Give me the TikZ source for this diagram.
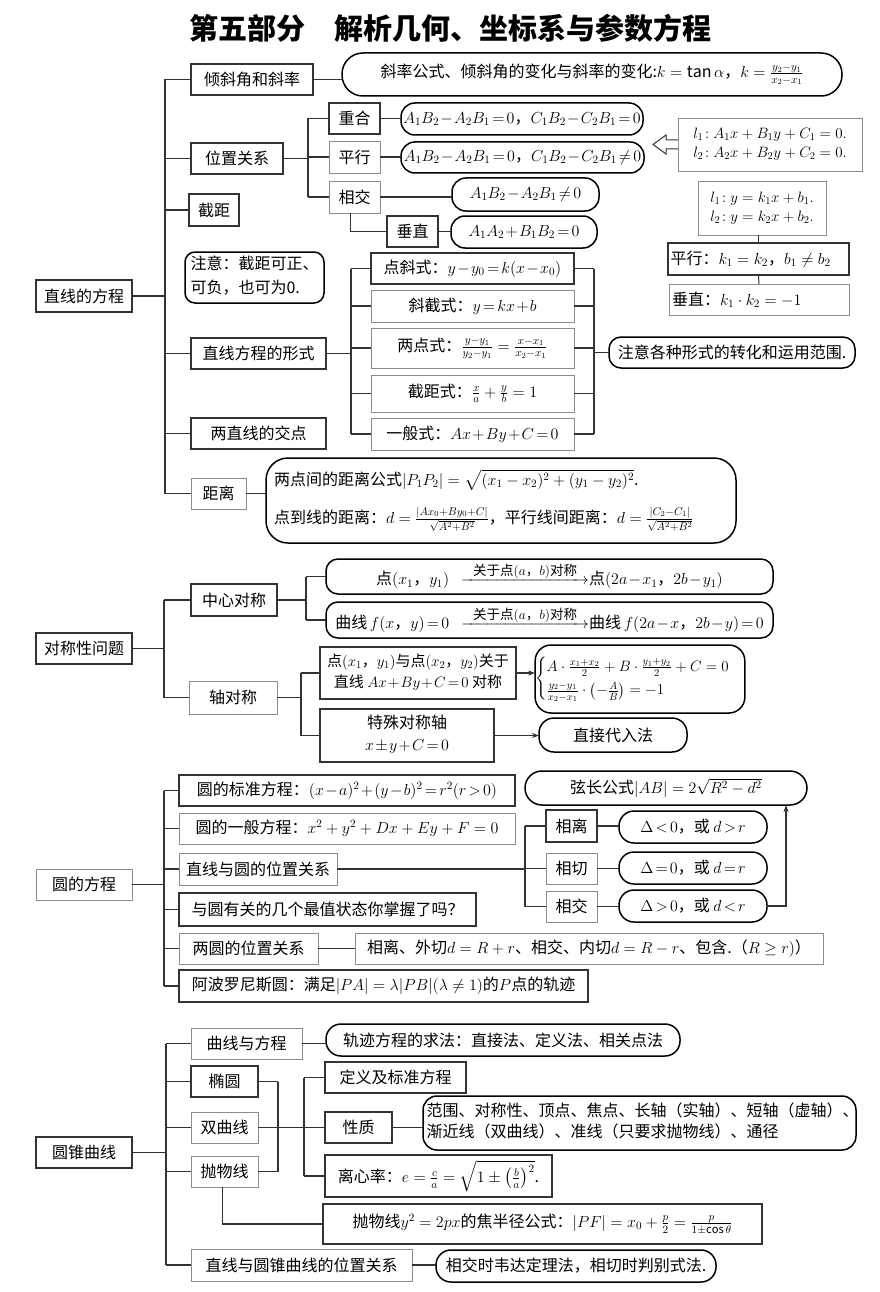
\RequirePackage{fix-cm}
\documentclass[tikz,border=0pt]{standalone}
\usepackage{amsmath}
\usepackage{fontspec}
\setmainfont{Noto Sans CJK SC}
\usetikzlibrary{arrows.meta,calc}
\definecolor{dk}{HTML}{333333}
\definecolor{lg}{HTML}{8C8C8C}
\newcommand\fsA{\fontsize{16}{19}\selectfont}
\newcommand\fsB{\fontsize{15}{18}\selectfont}
\newcommand\fsS{\fontsize{13.5}{14}\selectfont}
\newcommand\tight{\medmuskip=1.5mu\thickmuskip=2.5mu\relax}
\newcommand\ml[2][c]{\begin{tabular}{@{}#1@{}}#2\end{tabular}}
\makeatletter
\newcommand\symarrow{\makebox[128pt]{\rightarrowfill}\llap{\makebox[128pt]{\raisebox{9pt}{\fsS 关于点$(a$，$b)$对称}}}}
\makeatother
\tikzset{
  box/.style={draw=dk, line width=1.1pt, inner sep=0pt, outer sep=0pt, font=\fsA},
  gbox/.style={box, draw=lg, line width=0.9pt},
  rbox/.style={box, draw=black, line width=1.5pt, rounded corners=13pt},
  bb/.style n args={4}{at={({(#1+#3)/2},{(#2+#4)/2})}, minimum width={#3-#1}, minimum height={#4-#2}},
  ln/.style={draw=dk, line width=1.2pt},
  arr/.style={ln, -{Stealth[length=7pt,width=5pt]}},
}
\begin{document}
\begin{tikzpicture}[x=1pt,y=-1pt]
\useasboundingbox[fill=white] (0,0) rectangle (880,1292);
\node[font=\fontsize{29}{32}\selectfont\bfseries] (title) at (450,28) {第五部分\hspace{1em}解析几何、坐标系与参数方程};

% ---------- Section 1 ----------
\coordinate (T1) at (165,0);
\node[box, bb={36}{280}{132}{312}] (n1) {直线的方程};
\node[box, bb={191}{64}{313}{95}] (a1) {倾斜角和斜率};
\node[box, bb={191}{143}{283}{174}] (a2) {位置关系};
\node[box, bb={189}{194}{239}{226}] (a3) {截距};
\node[rbox, rounded corners=10pt, bb={185}{252}{324}{303}] (a4) {\ml[l]{注意：截距可正、\\[5pt]可负，也可为0.}};
\node[box, bb={191}{338}{326}{369}] (a5) {直线方程的形式};
\node[box, bb={191}{418}{326}{449}] (a6) {两直线的交点};
\node[gbox, bb={191}{478}{246}{509}] (a7) {距离};
\draw[ln] (n1.east) -- (n1.east -| T1);
\draw[ln] (a1.west -| T1) -- (a7.west -| T1);
\foreach \n in {a1,a2,a3,a5,a6,a7} \draw[ln] (\n.west -| T1) -- (\n.west);

\node[rbox, rounded corners=21pt, bb={342}{53}{842}{96}] (b1) {斜率公式、倾斜角的变化与斜率的变化:$k=\tan\alpha$，$k=\frac{y_2-y_1}{x_2-x_1}$};
\draw[ln] (a1.east) -- (a1.east -| b1.west);

\coordinate (J2) at (308,0);
\node[box, bb={329}{103}{380}{134}] (c1) {重合};
\node[gbox, bb={329}{141}{380}{173}] (c2) {平行};
\node[gbox, bb={329}{181}{380}{213}] (c3) {相交};
\node[box, bb={387}{216}{438}{247}] (c4) {垂直};
\draw[ln] (a2.east) -- (a2.east -| J2);
\draw[ln] (c1.west -| J2) -- (c3.west -| J2);
\foreach \n in {c1,c2,c3} \draw[ln] (\n.west -| J2) -- (\n.west);
\draw[ln] ([xshift=-4pt]c3.south) |- (c4.west);

\node[rbox, rounded corners=14pt, bb={401}{103}{643}{135}] (d1) {\tight$A_1B_2-A_2B_1=0$，$C_1B_2-C_2B_1=0$};
\node[rbox, rounded corners=14pt, bb={401}{142}{644}{173}] (d2) {\tight$A_1B_2-A_2B_1=0$，$C_1B_2-C_2B_1\neq0$};
\node[rbox, rounded corners=14pt, bb={452}{178}{599}{211}] (d3) {\tight$A_1B_2-A_2B_1\neq0$};
\node[rbox, rounded corners=14pt, bb={451}{216}{597}{248}] (d4) {\tight$A_1A_2+B_1B_2=0$};
\draw[ln] (c1.east) -- (c1.east -| d1.west);
\draw[ln] (c2.east) -- (c2.east -| d2.west);
\draw[ln] (c3.east) -- (c3.east -| d3.west);
\draw[ln] (c4.east) -- (c4.east -| d4.west);

\node[gbox, font=\fsB, bb={678}{118}{862}{171}] (e1) {\ml{$l_1\!:A_1x+B_1y+C_1=0.$\\[1pt]$l_2\!:A_2x+B_2y+C_2=0.$}};
\draw[dk, line width=1pt, fill=white] (678,140) -- (666,140) -- (666,135) -- (653,144.5) -- (666,154) -- (666,149) -- (678,149);
\node[gbox, font=\fsB, bb={698}{181}{826}{235}] (e2) {\ml{$l_1\!:y=k_1x+b_1.$\\[1pt]$l_2\!:y=k_2x+b_2.$}};
\node[box, bb={668}{243}{849}{275}] (e3) {\makebox[176pt][l]{平行：$k_1=k_2$，$b_1\neq b_2$}};
\node[gbox, bb={669}{284}{849}{315}] (e4) {\makebox[174pt][l]{垂直：$k_1\cdot k_2=-1$}};
\draw[dk, line width=1pt] (e3.north |- e2.south) -- (e3.north);
\draw[dk, line width=1pt] (e3.south) -- (e4.north);

\coordinate (J3) at (351,0);
\coordinate (J4) at (594,0);
\node[box, bb={371}{253}{574}{284}] (f1) {\tight 点斜式：$y-y_0=k(x-x_0)$};
\node[gbox, bb={371}{290}{574}{322}] (f2) {\tight 斜截式：$y=kx+b$};
\node[gbox, bb={371}{328}{574}{368}] (f3) {两点式：$\frac{y-y_1}{y_2-y_1}=\frac{x-x_1}{x_2-x_1}$};
\node[gbox, bb={371}{375}{574}{412}] (f4) {截距式：$\frac{x}{a}+\frac{y}{b}=1$};
\node[gbox, bb={371}{418}{574}{450}] (f5) {\tight 一般式：$Ax+By+C=0$};
\draw[ln] (a5.east) -- (a5.east -| J3);
\draw[ln] (f1.west -| J3) -- (f5.west -| J3);
\draw[ln] (f1.east -| J4) -- (f5.east -| J4);
\foreach \n in {f1,f2,f3,f4,f5} {\draw[ln] (\n.west -| J3) -- (\n.west); \draw[ln] (\n.east) -- (\n.east -| J4);}
\node[rbox, rounded corners=12pt, bb={609}{337}{855}{368}] (g1) {注意各种形式的转化和运用范围.};
\draw[ln] (g1.west -| J4) -- (g1.west);

\node[rbox, rounded corners=22pt, bb={266}{458}{736}{543}] (h1) {\makebox[454pt][l]{\ml[l]{两点间的距离公式$|P_1P_2|=\sqrt{(x_1-x_2)^2+(y_1-y_2)^2}$.\\[16pt]点到线的距离：$d=\frac{|Ax_0+By_0+C|}{\sqrt{A^2+B^2}}$，平行线间距离：$d=\frac{|C_2-C_1|}{\sqrt{A^2+B^2}}$}}};
\draw[ln] (a7.east) -- (a7.east -| h1.west);

% ---------- Section 2 ----------
\coordinate (T2) at (164,0);
\coordinate (J5) at (306,0);
\coordinate (J6) at (301,0);
\node[box, bb={36}{633}{132}{664}] (s0) {对称性问题};
\node[box, bb={191}{584}{277}{616}] (s1) {中心对称};
\node[gbox, bb={189}{681}{277}{714}] (s2) {轴对称};
\draw[ln] (s0.east) -- (s0.east -| T2);
\draw[ln] (s1.west -| T2) -- (s2.west -| T2);
\draw[ln] (s1.west -| T2) -- (s1.west);
\draw[ln] (s2.west -| T2) -- (s2.west);

\node[rbox, rounded corners=12pt, bb={326}{559}{773}{594}] (p1) {\tight 点$(x_1$，$y_1)$\hspace{12pt}\symarrow 点$(2a-x_1$，$2b-y_1)$};
\node[rbox, rounded corners=12pt, bb={326}{602}{773}{638}] (p2) {\tight 曲线$\,f(x$，$y)=0$\hspace{12pt}\symarrow 曲线$\,f(2a-x$，$2b-y)=0$};
\draw[ln] (s1.east) -- (s1.east -| J5);
\draw[ln] (p1.west -| J5) -- (p2.west -| J5);
\draw[ln] (p1.west -| J5) -- (p1.west);
\draw[ln] (p2.west -| J5) -- (p2.west);

\node[box, font=\fsB, bb={320}{647}{516}{699}] (q1) {\tight\ml{点$(x_1$，$y_1)$与点$(x_2$，$y_2)$关于\\[3pt]直线 $Ax+By+C=0$ 对称}};
\node[box, bb={320}{709}{494}{762}] (q2) {\tight\ml{特殊对称轴\\[3pt]$x\pm y+C=0$}};
\draw[ln] (s2.east) -- (s2.east -| J6);
\draw[ln] (q1.west -| J6) -- (q2.west -| J6);
\draw[ln] (q1.west -| J6) -- (q1.west);
\draw[ln] (q2.west -| J6) -- (q2.west);
\node[rbox, rounded corners=16pt, font=\fsB, bb={538}{645}{742}{713}] (q3) {$\begin{cases}A\cdot\frac{x_1+x_2}{2}+B\cdot\frac{y_1+y_2}{2}+C=0\\[2pt] \frac{y_2-y_1}{x_2-x_1}\cdot\left(-\frac{A}{B}\right)=-1\end{cases}$};
\node[rbox, rounded corners=15pt, bb={539}{718}{687}{752}] (q4) {直接代入法};
\draw[arr] (q1.east) -- (q1.east -| q3.west);
\draw[arr] (q2.east) -- (q2.east -| q4.west);

% ---------- Section 3 ----------
\coordinate (T3) at (164,0);
\coordinate (J7) at (525,0);
\node[gbox, bb={36}{869}{132}{900}] (k0) {圆的方程};
\node[box, bb={179}{775}{515}{806}] (k1) {\tight 圆的标准方程：$(x-a)^2+(y-b)^2=r^2(r>0)$};
\node[gbox, bb={179}{813}{515}{844}] (k2) {圆的一般方程：$x^2+y^2+Dx+Ey+F=0$};
\node[gbox, bb={179}{853}{337}{885}] (k3) {直线与圆的位置关系};
\node[box, bb={179}{893}{476}{926}] (k4) {与圆有关的几个最值状态你掌握了吗？};
\node[gbox, bb={179}{933}{318}{964}] (k5) {两圆的位置关系};
\node[box, bb={179}{970}{588}{1002}] (k6) {阿波罗尼斯圆：满足$|PA|=\lambda|PB|(\lambda\neq1)$的$P$点的轨迹};
\node[gbox, bb={355}{933}{823}{964}] (k7) {相离、外切$d=R+r$、相交、内切$d=R-r$、包含.（$R\geq r)$）};
\draw[ln] (k0.east) -- (k0.east -| T3);
\draw[ln] (k1.west -| T3) -- (k6.west -| T3);
\foreach \n in {k1,k2,k3,k4,k5,k6} \draw[ln] (\n.west -| T3) -- (\n.west);
\draw[ln] (k5.east) -- (k7.west);

\node[box, bb={546}{810}{597}{842}] (m1) {相离};
\node[gbox, bb={546}{853}{597}{884}] (m2) {相切};
\node[gbox, bb={546}{891}{597}{922}] (m3) {相交};
\draw[ln] (k3.east) -- (k3.east -| J7);
\draw[ln] (m1.west -| J7) -- (m3.west -| J7);
\foreach \n in {m1,m2,m3} \draw[ln] (\n.west -| J7) -- (\n.west);
\node[rbox, rounded corners=15pt, bb={619}{811}{767}{843}] (o1) {\tight$\Delta<0$，或 $d>r$};
\node[rbox, rounded corners=15pt, bb={619}{852}{767}{884}] (o2) {\tight$\Delta=0$，或 $d=r$};
\node[rbox, rounded corners=15pt, bb={619}{890}{767}{922}] (o3) {\tight$\Delta>0$，或 $d<r$};
\draw[ln] (m1.east) -- (m1.east -| o1.west);
\draw[ln] (m2.east) -- (m2.east -| o2.west);
\draw[ln] (m3.east) -- (m3.east -| o3.west);
\node[rbox, rounded corners=17pt, bb={525}{771}{807}{805}] (o0) {弦长公式$|AB|=2\sqrt{R^2-d^2}$};
\draw[arr] (o3.east) -| ([xshift=-21pt]o0.south east);

% ---------- Section 4 ----------
\coordinate (T4) at (166,0);
\coordinate (J8) at (278,0);
\coordinate (J9) at (304,0);
\node[box, bb={36}{1137}{132}{1168}] (r0) {圆锥曲线};
\node[gbox, bb={191}{1028}{302}{1059}] (r1) {曲线与方程};
\node[box, bb={191}{1066}{258}{1097}] (r2) {椭圆};
\node[gbox, bb={191}{1112}{258}{1143}] (r3) {双曲线};
\node[gbox, bb={191}{1156}{258}{1187}] (r4) {抛物线};
\node[gbox, bb={191}{1249}{412}{1281}] (r5) {直线与圆锥曲线的位置关系};
\draw[ln] (r0.east) -- (r0.east -| T4);
\draw[ln] (r1.west -| T4) -- (r5.west -| T4);
\foreach \n in {r1,r2,r3,r4,r5} \draw[ln] (\n.west -| T4) -- (\n.west);
\draw[ln] (r2.east) -- (r2.east -| J8);
\draw[ln] (r4.east) -- (r4.east -| J8);
\draw[ln] (r2.east -| J8) -- (r4.east -| J8);
\draw[ln] (r3.east) -- (r3.east -| J9);

\node[box, bb={325}{1062}{466}{1093}] (u1) {定义及标准方程};
\node[box, bb={325}{1112}{392}{1143}] (u2) {性质};
\node[box, bb={325}{1155}{552}{1197}] (u3) {离心率：$e=\frac{c}{a}=\sqrt{1\pm\left(\frac{b}{a}\right)^2}$.};
\draw[ln] (u1.west -| J9) -- (u3.west -| J9);
\foreach \n in {u1,u2,u3} \draw[ln] (\n.west -| J9) -- (\n.west);
\node[rbox, rounded corners=14pt, bb={423}{1096}{856}{1150}] (u4) {\makebox[426pt][l]{\ml[l]{范围、对称性、顶点、焦点、长轴（实轴）、短轴（虚轴）、\\[1pt]渐近线（双曲线）、准线（只要求抛物线）、通径}}};
\draw[ln] (u2.east) -- (u2.east -| u4.west);
\node[box, bb={323}{1204}{762}{1244}] (u5) {抛物线$y^2=2px$的焦半径公式：$|PF|=x_0+\frac{p}{2}=\frac{p}{1\pm\cos\theta}$};
\draw[ln] ([xshift=-2pt]r4.south) |- (u5.west);

\node[rbox, rounded corners=15pt, bb={326}{1024}{680}{1056}] (v1) {轨迹方程的求法：直接法、定义法、相关点法};
\node[rbox, rounded corners=15pt, bb={436}{1250}{716}{1282}] (v2) {相交时韦达定理法，相切时判别式法.};
\draw[ln] (r1.east) -- (r1.east -| v1.west);
\draw[ln] (r5.east) -- (r5.east -| v2.west);
\end{tikzpicture}
\end{document}
